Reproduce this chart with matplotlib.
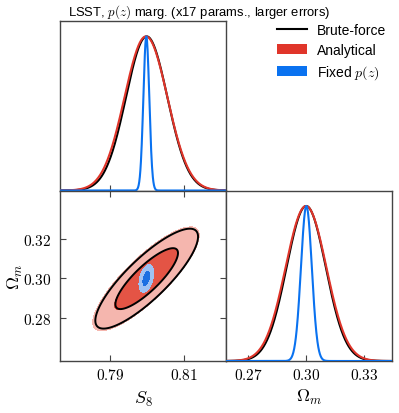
import numpy as np
import matplotlib
matplotlib.use("Agg")
import matplotlib.pyplot as plt
from matplotlib.lines import Line2D
from matplotlib.patches import Patch

plt.rcParams['mathtext.fontset'] = 'cm'
plt.rcParams['font.family'] = ['Liberation Sans', 'DejaVu Sans']

# ---- data (Gaussian posterior summaries) ----
params = ["S8", "Om"]
param_labels = [r"$S_8$", r"$\Omega_m$"]
labels = ["Brute-force", "Analytical", r"Fixed $p(z)$"]

brute_mean = [0.8000, 0.2999]
brute_sigma = [0.0056, 0.0101]
brute_rho = 0.84

analytic_mean = [0.7998, 0.2998]
analytic_sigma = [0.0058, 0.0105]
analytic_rho = 0.84

fixed_mean = [0.7999, 0.3000]
fixed_sigma = [0.0008, 0.0028]
fixed_rho = 0.4

s8_range = [0.7765, 0.8215]
om_range = [0.2585, 0.3442]
s8_ticks = [0.79, 0.81]
om_ticks_2d = [0.28, 0.30, 0.32]
om_ticks_1d = [0.27, 0.30, 0.33]
title = r"LSST, $p(z)$ marg. (x17 params., larger errors)"

# ---- colours ----
c_black = "#000000"
c_red_line = "#E0352A"
c_red_dark = "#E45445"
c_red_light = "#F5B6AE"
c_blue_line = "#0A72F0"
c_blue_dark = "#1A6FE2"
c_blue_light = "#9EC2F3"
spine_c = "#444444"

W, H = 399, 414
fig = plt.figure(figsize=(W / 100, H / 100), dpi=100)

def ax_at(x0, y0, x1, y1):
    return fig.add_axes([x0 / W, 1 - y1 / H, (x1 - x0) / W, (y1 - y0) / H])

ax_top = ax_at(60, 22, 226, 191.5)
ax_2d = ax_at(60, 191.5, 226, 362)
ax_om = ax_at(226, 191.5, 392, 362)

def style(ax):
    for s in ax.spines.values():
        s.set_color(spine_c)
        s.set_linewidth(1.0)
    ax.tick_params(direction='in', length=4, width=0.8, color=spine_c,
                   labelsize=11, pad=4)

for ax in (ax_top, ax_2d, ax_om):
    style(ax)

def gauss1d(x, m, s):
    return np.exp(-0.5 * ((x - m) / s) ** 2)

# --- top: S8 marginal ---
xs = np.linspace(s8_range[0], s8_range[1], 600)
ax_top.plot(xs, gauss1d(xs, brute_mean[0], brute_sigma[0]), color=c_black, lw=1.5, zorder=2)
ax_top.plot(xs, gauss1d(xs, analytic_mean[0], analytic_sigma[0]), color=c_red_line, lw=1.5, zorder=3)
ax_top.plot(xs, gauss1d(xs, fixed_mean[0], fixed_sigma[0]), color=c_blue_line, lw=1.5, zorder=4)
ax_top.set_xlim(s8_range)
ax_top.set_ylim(0, 1.1)
ax_top.set_xticks(s8_ticks)
ax_top.set_xticklabels([])
ax_top.set_yticks([])

# --- bottom right: Om marginal ---
xo = np.linspace(om_range[0], om_range[1], 600)
ax_om.plot(xo, gauss1d(xo, brute_mean[1], brute_sigma[1]), color=c_black, lw=1.5, zorder=2)
ax_om.plot(xo, gauss1d(xo, analytic_mean[1], analytic_sigma[1]), color=c_red_line, lw=1.5, zorder=3)
ax_om.plot(xo, gauss1d(xo, fixed_mean[1], fixed_sigma[1]), color=c_blue_line, lw=1.5, zorder=4)
ax_om.set_xlim(om_range)
ax_om.set_ylim(0, 1.1)
ax_om.set_xticks(om_ticks_1d)
ax_om.set_xticklabels([r"$%.2f$" % t for t in om_ticks_1d])
ax_om.set_yticks([])
ax_om.set_xlabel(r"$\Omega_m$", fontsize=13)
ax_om.xaxis.set_label_coords(0.5, -0.21)
ax_om.xaxis.label.set_va('center')

# --- 2D ---
gx, gy = np.meshgrid(np.linspace(s8_range[0], s8_range[1], 500),
                     np.linspace(om_range[0], om_range[1], 500))

def maha2(m, s, r):
    dx = (gx - m[0]) / s[0]
    dy = (gy - m[1]) / s[1]
    return (dx * dx - 2 * r * dx * dy + dy * dy) / (1 - r * r)

r68 = -2 * np.log(1 - 0.6827)
r95 = -2 * np.log(1 - 0.9545)

d_an = maha2(analytic_mean, analytic_sigma, analytic_rho)
ax_2d.contourf(gx, gy, d_an, levels=[0, r68, r95], colors=[c_red_dark, c_red_light], zorder=1)
d_bf = maha2(brute_mean, brute_sigma, brute_rho)
ax_2d.contour(gx, gy, d_bf, levels=[r68, r95], colors=c_black, linewidths=1.4, zorder=2)
d_fx = maha2(fixed_mean, fixed_sigma, fixed_rho)
ax_2d.contourf(gx, gy, d_fx, levels=[0, r68, r95], colors=[c_blue_dark, c_blue_light], zorder=3)

ax_2d.set_xlim(s8_range)
ax_2d.set_ylim(om_range)
ax_2d.set_xticks(s8_ticks)
ax_2d.set_xticklabels([r"$%.2f$" % t for t in s8_ticks])
ax_2d.set_yticks(om_ticks_2d)
ax_2d.set_yticklabels([r"$%.2f$" % t for t in om_ticks_2d])
ax_2d.tick_params(right=True, top=True)
ax_2d.tick_params(axis='y', pad=6)
ax_2d.set_xlabel(param_labels[0], fontsize=13)
ax_2d.set_ylabel(param_labels[1], fontsize=13)
ax_2d.xaxis.set_label_coords(0.5, -0.22)
ax_2d.xaxis.label.set_va('center')
ax_2d.yaxis.set_label_coords(-0.27, 0.5)
ax_2d.yaxis.label.set_va('center')

# title
fig.text(199.5 / W, 1 - 12 / H, title, ha='center', va='center', fontsize=9.4)

# legend
handles = [Line2D([0], [0], color=c_black, lw=1.5),
           Patch(facecolor=c_red_line, edgecolor='none'),
           Patch(facecolor=c_blue_line, edgecolor='none')]
fig.legend(handles, labels, loc='upper left', bbox_to_anchor=(277 / W, 1 - 24 / H),
           frameon=False, fontsize=10, handlelength=2.15, handleheight=0.77,
           handletextpad=0.72, labelspacing=0.44, borderpad=0, borderaxespad=0)

fig.savefig("out.png", dpi=100)
